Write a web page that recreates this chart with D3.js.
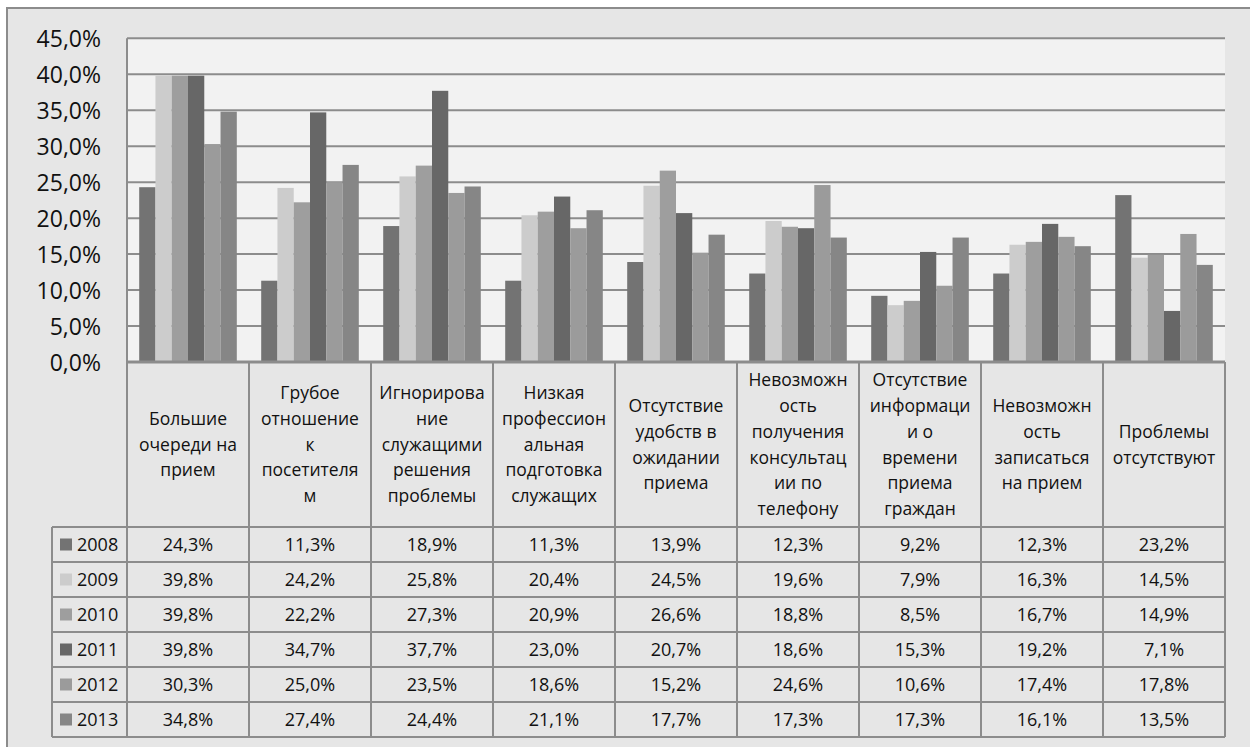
<!DOCTYPE html>
<html><head><meta charset="utf-8">
<script src="https://cdn.jsdelivr.net/npm/d3@7"></script>
<style>
html,body{margin:0;padding:0;background:#fff;}
svg{display:block;font-family:"Open Sans","Noto Sans",sans-serif;}
</style></head>
<body><svg id="chart" width="1250" height="747"></svg>
<script>
const categories = [
  ["Большие","очереди на","прием"],
  ["Грубое","отношение","к","посетителя","м"],
  ["Игнорирова","ние","служащими","решения","проблемы"],
  ["Низкая","профессион","альная","подготовка","служащих"],
  ["Отсутствие","удобств в","ожидании","приема"],
  ["Невозможн","ость","получения","консультац","ии по","телефону"],
  ["Отсутствие","информаци","и о","времени","приема","граждан"],
  ["Невозможн","ость","записаться","на прием"],
  ["Проблемы","отсутствуют"]
];
const years = ["2008","2009","2010","2011","2012","2013"];
const v2008 = [24.3,11.3,18.9,11.3,13.9,12.3,9.2,12.3,23.2];
const v2009 = [39.8,24.2,25.8,20.4,24.5,19.6,7.9,16.3,14.5];
const v2010 = [39.8,22.2,27.3,20.9,26.6,18.8,8.5,16.7,14.9];
const v2011 = [39.8,34.7,37.7,23.0,20.7,18.6,15.3,19.2,7.1];
const v2012 = [30.3,25.0,23.5,18.6,15.2,24.6,10.6,17.4,17.8];
const v2013 = [34.8,27.4,24.4,21.1,17.7,17.3,17.3,16.1,13.5];
const yTicks = [0,5,10,15,20,25,30,35,40,45];
const colors = ["#737373","#cccccc","#9e9e9e","#676767","#9b9b9b","#868686"];

const series = [v2008,v2009,v2010,v2011,v2012,v2013];
const svg = d3.select("#chart");
const loc = d3.formatLocale({decimal:",",thousands:" ",grouping:[3],currency:["",""]});
const fmt = v => loc.format(".1f")(v) + "%";

const L = 127, R = 1225, T = 38.3, B = 362;
const gridC = "#8c8c8c";

// outer panel
svg.append("rect").attr("x",7).attr("y",8).attr("width",1260).attr("height",760)
  .attr("fill","#e6e6e6").attr("stroke",gridC).attr("stroke-width",2);

const catIdx = categories.map((d,i)=>i);
const x = d3.scaleBand().domain(catIdx).range([L,R]).paddingInner(0).paddingOuter(0);
const xs = d3.scaleBand().domain(years).range([0,x.bandwidth()]).paddingInner(0).paddingOuter(0.75);
const y = d3.scaleLinear().domain([0,45]).range([B,T]);

// plot area
svg.append("rect").attr("x",L).attr("y",T).attr("width",R-L).attr("height",B-T).attr("fill","#f2f2f2");

// gridlines
svg.append("g").selectAll("line").data(yTicks.filter(t=>t>0)).join("line")
  .attr("x1",L).attr("x2",R).attr("y1",d=>y(d)).attr("y2",d=>y(d))
  .attr("stroke",gridC).attr("stroke-width",2);

// y axis labels
const yAxis = d3.axisLeft(y).tickValues(yTicks).tickFormat(fmt).tickSize(0).tickPadding(0);
const ga = svg.append("g").attr("transform",`translate(101,0)`).call(yAxis);
ga.select(".domain").remove();
ga.selectAll("text").attr("font-size",23).attr("fill","#111").attr("font-family","Open Sans").attr("dy","0.35em");

// bars
const gb = svg.append("g");
series.forEach((s,si)=>{
  gb.selectAll(null).data(s).join("rect")
    .attr("x",(d,i)=>x(i)+xs(years[si]))
    .attr("width",xs.bandwidth())
    .attr("y",d=>y(d))
    .attr("height",d=>y(0)-y(d))
    .attr("fill",colors[si]);
});

// plot left border and axis line
svg.append("line").attr("x1",L).attr("x2",L).attr("y1",T).attr("y2",B).attr("stroke",gridC).attr("stroke-width",2);

// table
const headerTop = B, headerBot = 527, rowH = 35;
const legL = 52;
const tg = svg.append("g");
// vertical lines at column boundaries
const bounds = catIdx.map(i=>x(i)).concat([R]);
tg.selectAll("line.v").data(bounds).join("line").attr("class","v")
  .attr("x1",d=>d).attr("x2",d=>d).attr("y1",headerTop).attr("y2",headerBot+rowH*years.length)
  .attr("stroke",gridC).attr("stroke-width",2);
tg.append("line").attr("x1",legL).attr("x2",legL).attr("y1",headerBot).attr("y2",headerBot+rowH*years.length)
  .attr("stroke",gridC).attr("stroke-width",2);
tg.selectAll("line.h").data(d3.range(years.length+1)).join("line").attr("class","h")
  .attr("x1",legL).attr("x2",R).attr("y1",d=>headerBot+d*rowH).attr("y2",d=>headerBot+d*rowH)
  .attr("stroke",gridC).attr("stroke-width",2);
// axis line
svg.append("line").attr("x1",L-1).attr("x2",R).attr("y1",B).attr("y2",B).attr("stroke",gridC).attr("stroke-width",3);

// header texts
const lh = 25.8, hc = (headerTop+headerBot)/2;
categories.forEach((lines,i)=>{
  const t = tg.append("text").attr("font-size",17.5).attr("fill","#111").attr("text-anchor","middle");
  const n = lines.length;
  lines.forEach((ln,k)=>{
    t.append("tspan").attr("x",x(i)+x.bandwidth()/2)
      .attr("y",hc+(k-(n-1)/2)*lh).attr("dy","0.35em").text(ln);
  });
});

// rows
years.forEach((yr,si)=>{
  const cy = headerBot+si*rowH+rowH/2;
  tg.append("rect").attr("x",60).attr("y",cy-6).attr("width",12).attr("height",12).attr("fill",colors[si]);
  tg.append("text").attr("x",77).attr("y",cy).attr("dy","0.35em").attr("font-size",18).attr("fill","#111").text(yr);
  tg.selectAll(null).data(series[si]).join("text")
    .attr("x",(d,i)=>x(i)+x.bandwidth()/2).attr("y",cy).attr("dy","0.35em")
    .attr("text-anchor","middle").attr("font-size",18).attr("fill","#111")
    .text(d=>fmt(d));
});
</script></body></html>
